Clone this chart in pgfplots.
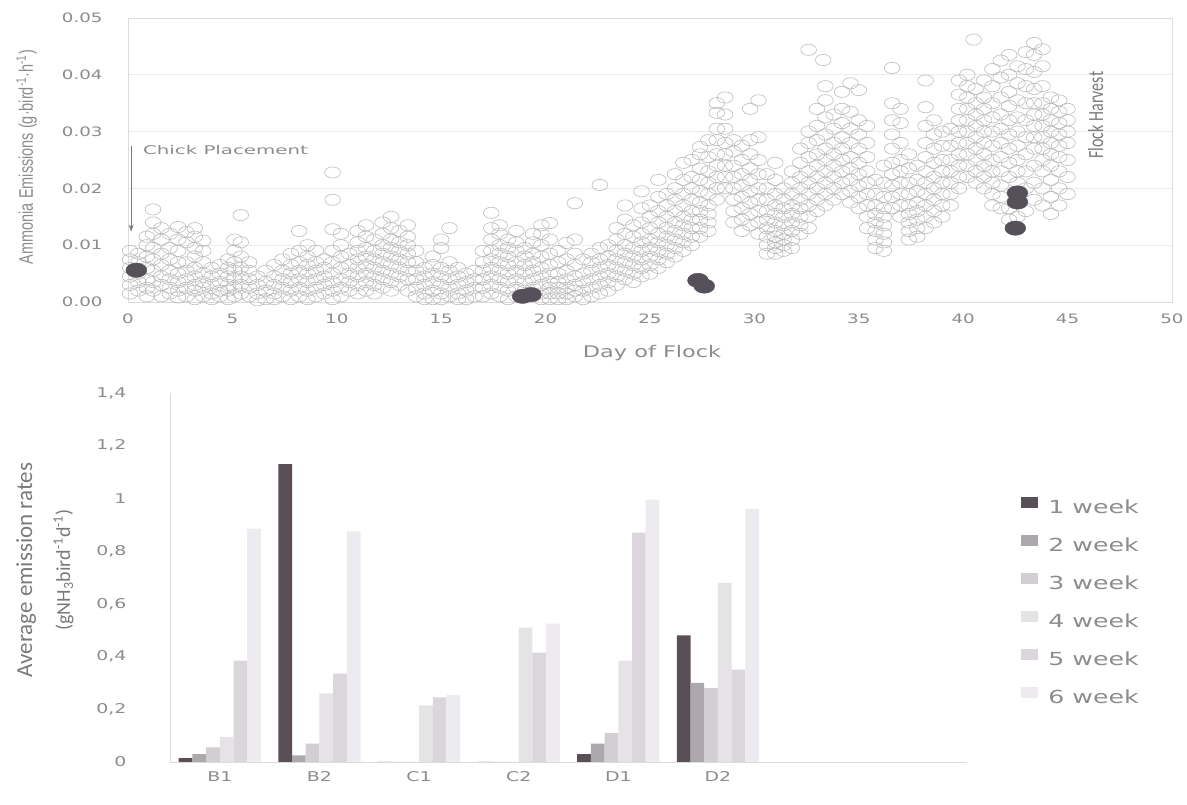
\documentclass[border=0pt]{standalone}
\usepackage{fontspec}
\usepackage{graphicx}
\usepackage{pgfplots}
\usepackage{pgfplotstable}
\usetikzlibrary{arrows.meta}
\pgfplotsset{compat=1.18}
\setmainfont{DejaVu Sans}
\newfontfamily\carlito{Carlito}
\newfontfamily\arialike{Liberation Sans}
% the original figure was set with horizontally widened lettering
\newcommand{\sx}[1]{\scalebox{1.4}[1]{#1}}
\newcommand{\sy}[1]{\scalebox{1}[1.35]{#1}}

\definecolor{txt}{HTML}{8C8C8C}
\definecolor{lbl}{HTML}{7A7A7A}
\definecolor{frame}{HTML}{DCDCDC}
\definecolor{gridc}{HTML}{ECECEC}
\definecolor{ring}{HTML}{B4B4B4}
\definecolor{dot}{HTML}{55505A}
\definecolor{wkA}{HTML}{5B4F57}
\definecolor{wkB}{HTML}{ADA8AC}
\definecolor{wkC}{HTML}{D2CED2}
\definecolor{wkD}{HTML}{E6E3E7}
\definecolor{wkE}{HTML}{DAD6DB}
\definecolor{wkF}{HTML}{EDEBEF}

% average emission rates per house and week of flock
\pgfplotstableread{
cat w1    w2    w3    w4    w5    w6
0   0.015 0.030 0.055 0.095 0.385 0.885
1   1.130 0.025 0.070 0.260 0.335 0.875
2   0     0     0     0.215 0.245 0.255
3   0     0     0     0.510 0.415 0.525
4   0.030 0.070 0.110 0.385 0.870 0.995
5   0.480 0.300 0.280 0.680 0.350 0.960
}\bars

\begin{document}
\begin{tikzpicture}[x=1pt,y=1pt]
\path[use as bounding box] (0,0) rectangle (1187,805);

% ---------------- hourly ammonia emissions (values in mg bird^-1 h^-1)
\begin{axis}[
  at={(128pt,503pt)}, anchor=south west, scale only axis,
  width=1044pt, height=284pt,
  xmin=0, xmax=50, ymin=0, ymax=50,
  clip=false,
  xtick={0,5,...,50},
  xticklabels={\sx{0},\sx{5},\sx{10},\sx{15},\sx{20},\sx{25},\sx{30},\sx{35},\sx{40},\sx{45},\sx{50}},
  ytick={0,10,20,30,40,50},
  yticklabels={\sx{0.00},\sx{0.01},\sx{0.02},\sx{0.03},\sx{0.04},\sx{0.05}},
  ymajorgrids, major grid style={draw=gridc, line width=0.8pt},
  axis line style={draw=frame, line width=0.8pt},
  major tick length=0pt,
  ticklabel style={font=\fontsize{13}{15}\selectfont, text=txt},
  xticklabel style={yshift=-8pt},
  yticklabel style={xshift=-22pt},
]
\addplot[only marks, mark=o, mark size=5.6pt,
  mark options={xscale=1.4, draw=ring, line width=0.7pt, draw opacity=0.8}]
coordinates {
(0.1,1.5) (0.1,3) (0.1,4.5) (0.1,6) (0.1,7.5) (0.1,9)
(0.5,2) (0.5,3.5) (0.5,5) (0.5,7) (0.5,8.5)
(0.9,1) (0.9,2.5) (0.9,4) (0.9,6) (0.9,8) (0.9,10) (0.9,11.5)
(1.2,2) (1.2,3.5) (1.2,5.5) (1.2,7.5) (1.2,9.5) (1.2,12) (1.2,14) (1.2,16.3)
(1.6,1) (1.6,3) (1.6,4.5) (1.6,6.5) (1.6,8.5) (1.6,11) (1.6,13)
(2.0,1.5) (2.0,2.5) (2.0,4) (2.0,5.5) (2.0,7.5) (2.0,9.5) (2.0,12)
(2.4,0.8) (2.4,2) (2.4,3.5) (2.4,5) (2.4,7) (2.4,9) (2.4,11) (2.4,13.2)
(2.8,1) (2.8,2.5) (2.8,4) (2.8,5.5) (2.8,7) (2.8,10.5) (2.8,12.3)
(3.2,0.5) (3.2,2) (3.2,3) (3.2,4.5) (3.2,6) (3.2,8) (3.2,9.5) (3.2,11.5) (3.2,13)
(3.6,1) (3.6,2.5) (3.6,3.5) (3.6,5) (3.6,7) (3.6,9) (3.6,10.8)
(4.0,0.5) (4.0,1.5) (4.0,3) (4.0,4.5) (4.0,6)
(4.4,1) (4.4,2) (4.4,3.5) (4.4,5) (4.4,6.5)
(4.8,0.5) (4.8,2) (4.8,3) (4.8,4.5) (4.8,6) (4.8,7.5)
(5.1,1) (5.1,2.5) (5.1,4) (5.1,5.5) (5.1,7) (5.1,9) (5.1,11)
(5.4,1.5) (5.4,3) (5.4,4.5) (5.4,6) (5.4,8) (5.4,10.5) (5.4,15.3)
(5.8,1) (5.8,2.5) (5.8,4) (5.8,5.5) (5.8,7)
(6.2,0.3) (6.2,1.5) (6.2,3) (6.2,4.5)
(6.6,0.5) (6.6,2) (6.6,3.5) (6.6,5.5)
(7.0,0.5) (7.0,1.5) (7.0,3) (7.0,4.5) (7.0,6.5)
(7.4,1) (7.4,2.5) (7.4,4) (7.4,5.5) (7.4,7.5)
(7.8,0.5) (7.8,2) (7.8,3.5) (7.8,5) (7.8,6.5) (7.8,8.5)
(8.2,1) (8.2,2.5) (8.2,4) (8.2,5.5) (8.2,7) (8.2,9) (8.2,12.5)
(8.6,0.5) (8.6,2) (8.6,3.5) (8.6,5) (8.6,6.5) (8.6,8) (8.6,10)
(9.0,1) (9.0,2.5) (9.0,4) (9.0,5.5) (9.0,7) (9.0,9)
(9.4,1.5) (9.4,3) (9.4,4.5) (9.4,6) (9.4,7.5)
(9.8,0.5) (9.8,2) (9.8,3.5) (9.8,5) (9.8,7) (9.8,9) (9.8,12.8) (9.8,18) (9.8,22.8)
(10.2,1) (10.2,2.5) (10.2,4) (10.2,6) (10.2,8) (10.2,10) (10.2,12)
(10.6,2) (10.6,3.5) (10.6,5) (10.6,6.5) (10.6,8.5)
(11.0,1.5) (11.0,3) (11.0,4.5) (11.0,6) (11.0,7.5) (11.0,9) (11.0,10.5) (11.0,12.5)
(11.4,2) (11.4,3.5) (11.4,5) (11.4,6.5) (11.4,8) (11.4,9.5) (11.4,11.5) (11.4,13.5)
(11.8,1.5) (11.8,3) (11.8,4.5) (11.8,6) (11.8,7.5) (11.8,9) (11.8,11)
(12.2,2.5) (12.2,4) (12.2,5.5) (12.2,7) (12.2,8.5) (12.2,10) (12.2,12) (12.2,14)
(12.6,2) (12.6,3.5) (12.6,5) (12.6,6.5) (12.6,8) (12.6,9.5) (12.6,11) (12.6,13) (12.6,15)
(13.0,3) (13.0,4.5) (13.0,6) (13.0,7.5) (13.0,9) (13.0,10.5) (13.0,12.5)
(13.4,2) (13.4,4) (13.4,5.5) (13.4,7) (13.4,8.5) (13.4,10) (13.4,11.5) (13.4,13.5)
(13.8,1) (13.8,2.5) (13.8,4) (13.8,5.5) (13.8,7) (13.8,9)
(14.2,0.5) (14.2,1.5) (14.2,3) (14.2,4.5) (14.2,6)
(14.6,0.5) (14.6,2) (14.6,3.5) (14.6,5) (14.6,6.5) (14.6,8)
(15.0,0.5) (15.0,1.5) (15.0,3) (15.0,4.5) (15.0,6) (15.0,9.5) (15.0,11)
(15.4,1) (15.4,2.5) (15.4,4) (15.4,5.5) (15.4,7) (15.4,13)
(15.8,0.5) (15.8,1.5) (15.8,3) (15.8,4.5) (15.8,6)
(16.2,0.5) (16.2,2) (16.2,3.5) (16.2,5)
(16.6,1) (16.6,2.5) (16.6,4) (16.6,5.5)
(17.0,1) (17.0,2.5) (17.0,4) (17.0,5.5) (17.0,7) (17.0,9)
(17.4,1.5) (17.4,3) (17.4,4.5) (17.4,6) (17.4,7.5) (17.4,9) (17.4,11) (17.4,13) (17.4,15.7)
(17.8,1) (17.8,2.5) (17.8,4) (17.8,5.5) (17.8,7) (17.8,8.5) (17.8,10) (17.8,12) (17.8,13.5)
(18.2,0.5) (18.2,2) (18.2,3.5) (18.2,5) (18.2,6.5) (18.2,8) (18.2,9.5) (18.2,11)
(18.6,1) (18.6,2.5) (18.6,4) (18.6,5.5) (18.6,7) (18.6,9) (18.6,10.5) (18.6,12.5)
(19.0,2) (19.0,3.5) (19.0,5) (19.0,6.5) (19.0,8) (19.0,9.5)
(19.4,1) (19.4,2.5) (19.4,4) (19.4,5.5) (19.4,7) (19.4,8.5) (19.4,10.5) (19.4,12)
(19.8,0.5) (19.8,1.5) (19.8,3) (19.8,4.5) (19.8,6) (19.8,8) (19.8,10) (19.8,12) (19.8,13.5)
(20.2,0.5) (20.2,1.5) (20.2,2.5) (20.2,3.5) (20.2,5) (20.2,6.5) (20.2,8.5) (20.2,11) (20.2,13.9)
(20.6,0.5) (20.6,1.5) (20.6,2.5) (20.6,3.5) (20.6,5) (20.6,7) (20.6,9)
(21.0,0.5) (21.0,1.5) (21.0,2.5) (21.0,4) (21.0,5.5) (21.0,7.5) (21.0,10.4)
(21.4,1) (21.4,2) (21.4,3) (21.4,4.5) (21.4,6.5) (21.4,8.5) (21.4,11) (21.4,17.4)
(21.8,0.5) (21.8,2) (21.8,3.5) (21.8,5) (21.8,7.5)
(22.2,1) (22.2,2.5) (22.2,4) (22.2,5.5) (22.2,7) (22.2,8.5)
(22.6,1.5) (22.6,3) (22.6,4.5) (22.6,6) (22.6,7.5) (22.6,9.5) (22.6,20.6)
(23.0,2) (23.0,3.5) (23.0,5) (23.0,6.5) (23.0,8) (23.0,10)
(23.4,3) (23.4,4.5) (23.4,6) (23.4,7.5) (23.4,9) (23.4,11) (23.4,13)
(23.8,4) (23.8,5.5) (23.8,7) (23.8,8.5) (23.8,10) (23.8,12) (23.8,14.5) (23.8,17)
(24.2,3.5) (24.2,5) (24.2,6.5) (24.2,8) (24.2,9.5) (24.2,11.5) (24.2,13.5)
(24.6,4.5) (24.6,6) (24.6,7.5) (24.6,9) (24.6,10.5) (24.6,12) (24.6,14) (24.6,16.5) (24.6,19.5)
(25.0,5) (25.0,6.5) (25.0,8) (25.0,9.5) (25.0,11) (25.0,13) (25.0,15) (25.0,17)
(25.4,6) (25.4,7.5) (25.4,9) (25.4,10.5) (25.4,12) (25.4,14) (25.4,16) (25.4,18.5) (25.4,21.5)
(25.8,7) (25.8,8.5) (25.8,10) (25.8,11.5) (25.8,13) (25.8,15) (25.8,17) (25.8,19)
(26.2,8) (26.2,9.5) (26.2,11) (26.2,12.5) (26.2,14) (26.2,16) (26.2,18) (26.2,20) (26.2,22.5)
(26.6,9) (26.6,10.5) (26.6,12) (26.6,13.5) (26.6,15) (26.6,17) (26.6,19) (26.6,21.5) (26.6,24.5)
(27.0,10) (27.0,11.5) (27.0,13) (27.0,14.5) (27.0,16) (27.0,18) (27.0,20) (27.0,22) (27.0,25)
(27.4,11.5) (27.4,13) (27.4,14.5) (27.4,16) (27.4,17.5) (27.4,19.5) (27.4,21.5) (27.4,23.5) (27.4,26) (27.4,27.3)
(27.8,12.5) (27.8,14) (27.8,15.5) (27.8,17) (27.8,19) (27.8,21) (27.8,23) (27.8,25.5) (27.8,28.5)
(28.2,18) (28.2,20) (28.2,22) (28.2,24) (28.2,26) (28.2,28.5) (28.2,30.5) (28.2,33.3) (28.2,35)
(28.6,20) (28.6,22) (28.6,24) (28.6,26) (28.6,28) (28.6,30.5) (28.6,33) (28.6,36)
(29.0,14) (29.0,16) (29.0,18) (29.0,20) (29.0,22) (29.0,24) (29.0,26.5) (29.0,28.5)
(29.4,12.5) (29.4,14.5) (29.4,16.5) (29.4,18.5) (29.4,20.5) (29.4,22.5) (29.4,25) (29.4,27.5)
(29.8,13.5) (29.8,15.5) (29.8,17.5) (29.8,19.5) (29.8,21.5) (29.8,23.5) (29.8,26) (29.8,28.5) (29.8,34)
(30.2,12) (30.2,14) (30.2,16) (30.2,18) (30.2,20) (30.2,22.5) (30.2,25) (30.2,29) (30.2,35.5)
(30.6,8.5) (30.6,10) (30.6,11.5) (30.6,13) (30.6,14.5) (30.6,16) (30.6,18) (30.6,20) (30.6,22.5)
(31.0,8.5) (31.0,9.5) (31.0,10.5) (31.0,11.5) (31.0,12.5) (31.0,14) (31.0,15.5) (31.0,17) (31.0,19) (31.0,21.5) (31.0,24.5)
(31.4,9) (31.4,10) (31.4,11) (31.4,12) (31.4,13.5) (31.4,15) (31.4,16.5) (31.4,18) (31.4,20)
(31.8,9.5) (31.8,11) (31.8,12.5) (31.8,14) (31.8,15.5) (31.8,17) (31.8,19) (31.8,21) (31.8,23)
(32.2,12) (32.2,13.5) (32.2,15) (32.2,16.5) (32.2,18) (32.2,20) (32.2,22) (32.2,24.5) (32.2,27)
(32.6,13) (32.6,15) (32.6,17) (32.6,19) (32.6,21) (32.6,23) (32.6,25.5) (32.6,28) (32.6,30) (32.6,44.4)
(33.0,16) (33.0,18) (33.0,20) (33.0,22) (33.0,24) (33.0,26) (33.0,28.5) (33.0,31) (33.0,34)
(33.3,42.6)
(33.4,17) (33.4,19) (33.4,21) (33.4,23) (33.4,25) (33.4,27) (33.4,29.5) (33.4,32.5) (33.4,35.5) (33.4,38)
(33.8,18) (33.8,20) (33.8,22) (33.8,24) (33.8,26) (33.8,28) (33.8,30.5) (33.8,33)
(34.2,19) (34.2,21) (34.2,23) (34.2,25) (34.2,27) (34.2,29) (34.2,31.5) (34.2,34) (34.2,37)
(34.6,17.5) (34.6,19.5) (34.6,21.5) (34.6,23.5) (34.6,25.5) (34.6,28) (34.6,30.5) (34.6,33.5) (34.6,38.5)
(35.0,16.5) (35.0,18.5) (35.0,20.5) (35.0,22.5) (35.0,24.5) (35.0,27) (35.0,29.5) (35.0,32) (35.0,37.3)
(35.4,13) (35.4,15) (35.4,17) (35.4,19) (35.4,21) (35.4,23) (35.4,25.5) (35.4,28) (35.4,31)
(35.8,9.5) (35.8,11) (35.8,12.5) (35.8,14) (35.8,15.5) (35.8,17) (35.8,19) (35.8,21.5)
(36.2,9) (36.2,10.5) (36.2,12) (36.2,13.5) (36.2,15) (36.2,16.5) (36.2,18.5) (36.2,21) (36.2,24)
(36.6,16.5) (36.6,18.5) (36.6,20.5) (36.6,22.5) (36.6,24.5) (36.6,27) (36.6,29.5) (36.6,32) (36.6,35) (36.6,41.2)
(37.0,15) (37.0,17) (37.0,19) (37.0,21) (37.0,23) (37.0,25) (37.0,28) (37.0,31.5) (37.0,34)
(37.4,11) (37.4,12.5) (37.4,14) (37.4,15.5) (37.4,17) (37.4,19) (37.4,21) (37.4,23.5) (37.4,26)
(37.8,11.5) (37.8,13) (37.8,14.5) (37.8,16) (37.8,17.5) (37.8,19.5) (37.8,21.5) (37.8,24)
(38.2,13) (38.2,15) (38.2,17) (38.2,19) (38.2,21) (38.2,23) (38.2,25.5) (38.2,28) (38.2,31) (38.2,34.3) (38.2,39)
(38.6,14) (38.6,16) (38.6,18) (38.6,20) (38.6,22) (38.6,24.5) (38.6,27) (38.6,29.5) (38.6,32)
(39.0,15) (39.0,17) (39.0,19) (39.0,21) (39.0,23) (39.0,25) (39.0,27.5) (39.0,30)
(39.4,17) (39.4,19) (39.4,21) (39.4,23) (39.4,25) (39.4,27.5) (39.4,30.5)
(39.8,20) (39.8,22) (39.8,24) (39.8,26) (39.8,28) (39.8,30) (39.8,32) (39.8,34) (39.8,36.5) (39.8,39)
(40.2,22) (40.2,24) (40.2,26) (40.2,28) (40.2,30) (40.2,32) (40.2,34) (40.2,36) (40.2,38) (40.2,40)
(40.5,46.2)
(40.6,21) (40.6,23) (40.6,25) (40.6,27) (40.6,29) (40.6,31) (40.6,33) (40.6,35) (40.6,37.5)
(41.0,20) (41.0,22) (41.0,24) (41.0,26) (41.0,28) (41.0,30) (41.0,32) (41.0,34) (41.0,36) (41.0,39)
(41.4,17) (41.4,19) (41.4,21) (41.4,23) (41.4,25) (41.4,27.5) (41.4,30) (41.4,32.5) (41.4,35) (41.4,38) (41.4,41)
(41.8,16.5) (41.8,18.5) (41.8,20.5) (41.8,23) (41.8,25.5) (41.8,28) (41.8,30.5) (41.8,33) (41.8,36) (41.8,39.5) (41.8,42.5)
(42.2,14.5) (42.2,16.5) (42.2,22) (42.2,24.5) (42.2,27) (42.2,29.5) (42.2,32) (42.2,34.5) (42.2,37) (42.2,40) (42.2,43.5)
(42.6,15) (42.6,21) (42.6,23) (42.6,25) (42.6,27.5) (42.6,30) (42.6,32.5) (42.6,35.5) (42.6,38.5) (42.6,41.5)
(43.0,16) (43.0,20) (43.0,23) (43.0,26) (43.0,29) (43.0,32) (43.0,35) (43.0,38) (43.0,41) (43.0,44)
(43.4,18) (43.4,21) (43.4,24) (43.4,27) (43.4,29) (43.4,31) (43.4,33) (43.4,35) (43.4,37.5) (43.4,40.5) (43.4,43.5) (43.4,45.6)
(43.8,17) (43.8,20) (43.8,23) (43.8,25) (43.8,27) (43.8,29) (43.8,31) (43.8,33) (43.8,35) (43.8,38) (43.8,41.5) (43.8,44.5)
(44.2,15.5) (44.2,18.5) (44.2,21.5) (44.2,24) (44.2,26) (44.2,28) (44.2,30) (44.2,32) (44.2,34) (44.2,36)
(44.6,17) (44.6,20) (44.6,23) (44.6,25.5) (44.6,27.5) (44.6,29.5) (44.6,31.5) (44.6,33.5) (44.6,35.5)
(45.0,19) (45.0,22) (45.0,25) (45.0,28) (45.0,30) (45.0,32) (45.0,34)
};
% weekly reference measurements
\addplot[only marks, mark=*, mark size=7.2pt,
  mark options={xscale=1.45, fill=dot, draw=dot}]
coordinates {
(0.4,5.6) (18.9,1.0) (19.3,1.3) (27.3,3.8) (27.6,2.8)
(42.6,19.2) (42.6,17.6) (42.5,13.0)
};
\draw[-{Stealth[length=7pt,width=5pt]}, draw=lbl, line width=0.8pt]
  (axis cs:0.15,27.4) -- (axis cs:0.15,12.4);
\node[anchor=west, text=txt, font=\fontsize{12}{14}\selectfont]
  at (axis cs:0.55,26.8) {\scalebox{1.65}[1]{Chick Placement}};
\node[rotate=90, text=lbl, font=\carlito\fontsize{16}{18}\selectfont]
  at (axis cs:46.35,32.9) {\sy{Flock Harvest}};
\node[rotate=90, text=txt, font=\arialike\fontsize{14.5}{16}\selectfont]
  at (rel axis cs:-0.097,0.51) {\sy{Ammonia Emissions (g·bird\textsuperscript{-1}·h\textsuperscript{-1})}};
\node[text=txt, font=\fontsize{16}{18}\selectfont]
  at (rel axis cs:0.502,-0.18) {\sx{Day of Flock}};
\end{axis}

% ---------------- weekly average emission rates
\begin{axis}[
  at={(170pt,43pt)}, anchor=south west, scale only axis,
  width=797pt, height=369pt,
  xmin=-0.5, xmax=7.5, ymin=0, ymax=1.4,
  ybar=0pt, bar width=13.7pt,
  clip=false,
  axis x line*=bottom, axis y line*=left,
  axis line style={draw=frame, line width=0.8pt, -},
  major tick length=0pt,
  xtick={0,1,2,3,4,5},
  xticklabels={\sx{B1},\sx{B2},\sx{C1},\sx{C2},\sx{D1},\sx{D2}},
  ytick={0,0.2,0.4,0.6,0.8,1,1.2,1.4},
  yticklabels={\sx{0},\sx{0,2},\sx{0,4},\sx{0,6},\sx{0,8},\sx{1},\sx{1,2},\sx{1,4}},
  ticklabel style={font=\fontsize{13.5}{16}\selectfont, text=txt},
  xticklabel style={yshift=-6pt},
  yticklabel style={xshift=-40pt},
  legend style={at={(1.068,0.72)}, anchor=north west, draw=none, fill=none,
    inner sep=0pt, row sep=21pt,
    font=\fontsize{18}{20}\selectfont, text=txt,
    nodes={inner sep=0pt, text height=12pt, text depth=0pt}},
  legend cell align=left,
  legend image code/.code={\fill[#1] (0pt,0pt) rectangle (17pt,11pt);},
]
\addplot[fill=wkA, draw=none] table[x=cat, y=w1]{\bars};
\addplot[fill=wkB, draw=none] table[x=cat, y=w2]{\bars};
\addplot[fill=wkC, draw=none] table[x=cat, y=w3]{\bars};
\addplot[fill=wkD, draw=none] table[x=cat, y=w4]{\bars};
\addplot[fill=wkE, draw=none] table[x=cat, y=w5]{\bars};
\addplot[fill=wkF, draw=none] table[x=cat, y=w6]{\bars};
\legend{\hspace{10pt}\sx{1 week},\hspace{10pt}\sx{2 week},\hspace{10pt}\sx{3 week},
        \hspace{10pt}\sx{4 week},\hspace{10pt}\sx{5 week},\hspace{10pt}\sx{6 week}}
\node[rotate=90, align=center, text=lbl, font=\carlito\fontsize{20}{24}\selectfont]
  at (rel axis cs:-0.157,0.52)
  {{\fontsize{23}{24}\selectfont Average emission rates}\\[14pt]
   (gNH\textsubscript{3}bird\textsuperscript{-1}d\textsuperscript{-1})};
\end{axis}
\end{tikzpicture}
\end{document}
